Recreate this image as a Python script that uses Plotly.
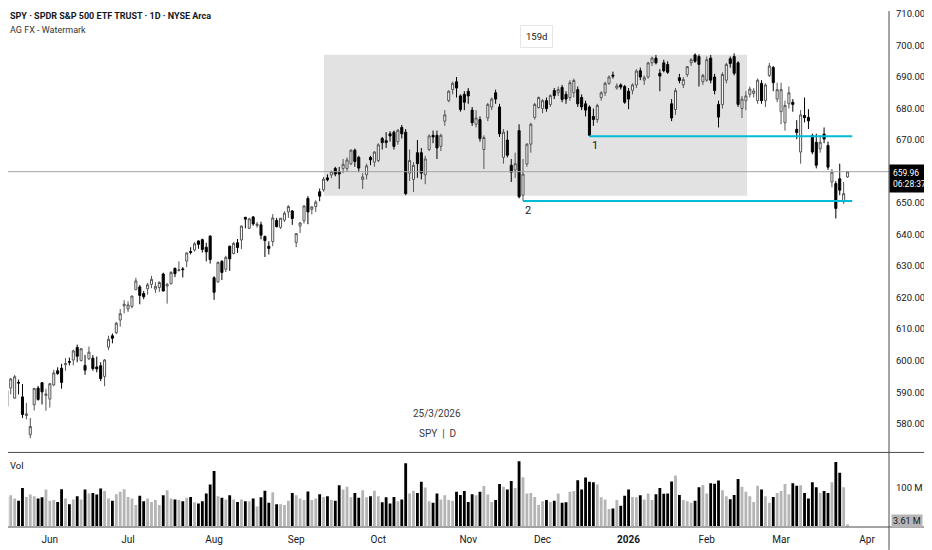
import plotly.graph_objects as go
import pandas as pd

# NYSE sessions between mid May 2025 and early April 2026
holidays = ["2025-05-26", "2025-06-19", "2025-07-04", "2025-09-01", "2025-11-27",
            "2025-12-25", "2026-01-01", "2026-01-19", "2026-02-16", "2026-04-03"]
sessions = pd.bdate_range("2025-05-13", "2026-04-10", freq="C", holidays=holidays)

# daily OHLC (SPY, 13 May 2025 .. 25 Mar 2026)
opens = [
    585.0, 588.0, 585.5, 591.3, 588.1, 593.1, 588.5, 582.6, 576.5, 586.0,
    591.3, 593.0, 589.0, 587.8, 592.3, 596.8, 597.6, 598.7, 599.7, 600.2,
    604.2, 600.0, 598.5, 600.6, 600.8, 598.0, 598.4, 595.0, 604.3, 607.9,
    608.9, 612.9, 617.4, 616.4, 617.2, 622.5, 623.4, 621.3, 622.8, 624.2,
    622.7, 623.2, 627.5, 623.7, 624.4, 629.3, 628.6, 629.1, 631.6, 634.6,
    635.1, 638.0, 638.4, 636.0, 639.5, 626.3, 625.0, 631.5, 629.0, 636.3,
    634.0, 637.4, 638.3, 645.5, 642.0, 645.6, 642.9, 643.1, 639.4, 636.3,
    637.8, 644.5, 642.3, 644.6, 647.2, 647.5, 637.5, 642.7, 644.4, 651.5,
    648.0, 648.9, 653.6, 654.2, 658.0, 658.9, 661.0, 660.0, 661.0, 661.0,
    662.5, 666.8, 664.5, 657.5, 659.0, 664.5, 663.0, 663.5, 670.5, 669.8,
    672.0, 672.5, 669.5, 674.0, 672.5, 659.5, 657.5, 666.0, 666.0, 659.0,
    667.0, 671.5, 671.5, 668.0, 676.0, 682.5, 686.0, 688.5, 684.0, 684.5,
    685.5, 679.5, 675.0, 676.5, 667.0, 677.0, 680.5, 685.0, 680.5, 664.5,
    670.0, 662.0, 660.5, 673.0, 652.5, 662.4, 668.7, 677.2, 680.3, 680.0,
    682.5, 681.3, 685.7, 685.0, 686.7, 684.5, 683.5, 685.0, 686.0, 683.5,
    681.5, 680.5, 677.5, 676.5, 683.5, 685.0, 688.0, 690.6, 686.5, 687.5,
    687.0, 685.5, 685.8, 687.5, 692.0, 689.0, 690.0, 694.5, 696.0, 691.2,
    694.5, 694.0, 681.5, 679.7, 689.8, 687.5, 690.8, 694.5, 697.0, 696.5,
    688.5, 689.0, 696.0, 690.0, 681.3, 681.3, 689.0, 695.8, 696.5, 694.5,
    680.0, 682.5, 684.5, 684.8, 682.5, 688.0, 682.5, 690.5, 693.0, 683.0,
    679.0, 675.5, 681.5, 682.0, 673.4, 666.2, 677.8, 677.2, 671.4, 669.3,
    667.2, 671.9, 668.3, 656.7, 656.2, 657.7, 650.4, 658.3,
]
highs = [
    589.1, 588.5, 590.9, 594.5, 595.5, 594.0, 592.6, 586.6, 581.8, 591.3,
    592.0, 593.2, 591.1, 592.8, 597.1, 597.9, 599.0, 600.8, 601.0, 603.5,
    605.1, 604.0, 601.8, 604.5, 601.8, 601.3, 599.5, 600.5, 607.9, 608.6,
    612.3, 616.4, 619.2, 618.8, 620.6, 626.3, 624.0, 622.1, 624.7, 626.9,
    624.9, 625.2, 627.9, 624.7, 628.4, 629.5, 631.5, 629.7, 634.3, 636.0,
    637.6, 638.1, 638.7, 637.4, 639.8, 626.8, 631.4, 631.9, 633.3, 636.5,
    637.7, 638.6, 642.9, 645.6, 645.3, 645.9, 644.0, 644.1, 639.7, 637.9,
    646.5, 645.3, 645.3, 647.4, 649.3, 647.8, 640.5, 644.0, 649.2, 652.2,
    649.0, 650.9, 654.6, 658.3, 659.1, 660.3, 661.5, 661.5, 664.0, 664.5,
    667.0, 667.3, 665.0, 659.5, 662.5, 665.0, 666.5, 669.0, 671.0, 672.5,
    672.8, 673.0, 673.5, 674.8, 673.5, 667.0, 663.0, 670.0, 667.5, 665.0,
    671.8, 673.0, 673.0, 672.0, 679.5, 685.8, 688.5, 690.0, 684.5, 685.5,
    686.5, 680.5, 679.5, 677.5, 671.5, 681.8, 683.5, 686.0, 681.5, 673.5,
    673.0, 664.0, 666.0, 675.0, 664.0, 669.0, 675.5, 681.8, 683.8, 683.0,
    683.5, 684.5, 686.5, 687.0, 687.5, 685.5, 689.0, 689.5, 687.0, 684.5,
    682.5, 681.0, 680.0, 681.5, 685.5, 688.5, 690.5, 691.7, 688.0, 688.0,
    687.5, 686.5, 688.0, 692.5, 693.0, 690.5, 694.8, 696.5, 697.0, 692.5,
    695.5, 695.0, 683.0, 686.5, 691.0, 690.0, 693.5, 696.0, 697.5, 697.2,
    691.0, 696.5, 697.0, 691.0, 682.5, 691.5, 694.5, 696.5, 697.5, 695.0,
    684.0, 685.5, 687.0, 686.5, 689.5, 689.0, 688.0, 694.5, 693.5, 688.2,
    688.2, 682.5, 687.0, 683.0, 676.3, 679.5, 683.5, 679.8, 672.0, 672.0,
    671.5, 674.0, 669.5, 660.8, 657.0, 662.5, 656.7, 660.2,
]
lows = [
    584.0, 585.5, 585.0, 589.3, 588.0, 589.3, 581.8, 581.4, 575.4, 584.2,
    587.3, 586.1, 584.1, 585.1, 591.9, 595.5, 591.1, 596.8, 598.5, 598.5,
    599.5, 599.8, 595.5, 600.2, 596.8, 596.3, 593.5, 591.9, 603.4, 605.5,
    608.4, 610.8, 615.0, 615.4, 616.6, 622.4, 617.9, 619.5, 620.9, 623.0,
    621.5, 621.8, 622.0, 618.1, 624.2, 626.5, 628.3, 626.4, 629.7, 633.7,
    634.6, 635.5, 634.3, 631.5, 630.8, 619.3, 624.7, 625.6, 628.1, 628.5,
    633.7, 634.2, 635.4, 642.0, 641.8, 642.8, 642.2, 638.5, 632.9, 633.7,
    636.3, 642.3, 641.8, 644.0, 645.3, 643.1, 636.0, 640.5, 643.5, 643.3,
    646.4, 647.2, 650.6, 653.6, 656.9, 657.9, 658.5, 654.5, 659.5, 660.0,
    662.0, 661.5, 659.8, 654.5, 657.5, 662.0, 661.5, 663.0, 667.0, 667.5,
    669.5, 667.0, 668.5, 670.5, 652.5, 657.0, 653.5, 658.0, 657.5, 656.0,
    666.5, 669.0, 664.0, 666.5, 674.5, 682.0, 684.5, 683.5, 679.0, 679.5,
    681.5, 674.5, 674.0, 669.5, 660.8, 676.0, 679.5, 681.5, 671.0, 662.5,
    664.5, 656.7, 658.0, 651.5, 650.7, 661.5, 666.0, 676.5, 680.0, 678.5,
    679.0, 680.5, 683.0, 684.0, 682.0, 681.5, 682.5, 683.5, 680.5, 679.5,
    677.5, 671.2, 674.5, 675.5, 682.5, 684.0, 687.5, 689.5, 686.0, 686.0,
    681.5, 679.8, 684.5, 686.5, 689.0, 687.5, 689.5, 693.5, 694.0, 685.5,
    691.5, 691.0, 676.0, 678.0, 688.0, 686.5, 690.0, 693.5, 694.5, 687.0,
    687.5, 688.5, 688.0, 684.5, 674.0, 680.0, 688.0, 693.0, 690.5, 680.5,
    677.0, 679.5, 683.5, 683.5, 681.5, 681.5, 680.5, 690.0, 685.5, 682.0,
    675.0, 673.0, 680.0, 679.0, 670.3, 662.5, 675.6, 673.5, 665.5, 661.0,
    666.0, 669.0, 660.5, 655.0, 645.1, 652.5, 649.8, 658.0,
]
closes = [
    586.8, 587.6, 590.5, 594.2, 594.9, 592.9, 582.9, 583.1, 579.1, 591.2,
    587.7, 590.1, 589.4, 592.7, 596.1, 595.9, 593.1, 599.1, 599.5, 603.1,
    601.4, 603.8, 597.0, 602.7, 597.5, 597.4, 594.3, 600.2, 606.8, 607.1,
    611.9, 614.9, 617.9, 617.7, 620.5, 625.3, 620.7, 620.3, 624.1, 625.8,
    623.6, 624.8, 622.1, 624.2, 628.0, 627.6, 628.8, 628.9, 634.2, 634.4,
    637.1, 636.9, 635.3, 634.5, 632.1, 621.7, 631.2, 628.0, 632.8, 632.3,
    637.2, 635.9, 642.7, 644.9, 645.0, 643.4, 643.3, 639.8, 638.1, 635.6,
    645.3, 642.5, 645.2, 646.8, 648.9, 645.1, 640.3, 643.7, 649.1, 647.2,
    648.8, 650.3, 652.2, 657.6, 657.4, 660.0, 659.2, 659.2, 662.3, 663.7,
    666.8, 663.2, 661.1, 658.3, 661.8, 663.7, 666.2, 668.5, 669.2, 669.2,
    671.3, 668.0, 673.1, 672.0, 653.0, 663.5, 662.0, 662.5, 659.5, 664.0,
    671.3, 671.0, 667.5, 671.5, 678.0, 685.5, 688.0, 686.5, 679.7, 682.0,
    684.0, 675.5, 677.0, 670.5, 670.8, 681.3, 683.0, 683.0, 672.0, 672.5,
    665.2, 659.8, 662.5, 652.0, 659.2, 668.7, 675.0, 681.3, 683.5, 682.5,
    680.0, 684.1, 684.1, 686.0, 682.9, 683.0, 688.2, 688.9, 681.5, 680.5,
    679.5, 671.5, 676.5, 681.0, 685.0, 688.0, 690.0, 690.3, 687.2, 686.8,
    682.0, 683.0, 687.5, 691.9, 690.0, 689.8, 694.5, 696.0, 694.5, 690.3,
    692.0, 691.5, 677.0, 685.7, 688.9, 689.2, 693.3, 695.5, 695.0, 694.0,
    690.5, 695.5, 689.0, 685.7, 677.3, 690.8, 694.0, 694.3, 691.2, 681.3,
    683.0, 684.0, 686.2, 685.6, 689.0, 682.5, 687.5, 693.5, 688.2, 686.0,
    686.0, 681.0, 685.0, 681.3, 672.4, 678.0, 677.1, 676.1, 666.2, 662.0,
    669.3, 670.3, 661.4, 659.8, 648.3, 654.1, 653.0, 659.96,
]
# daily volume, millions of shares
volume_m = [
    70, 71, 75, 79, 71, 65, 98, 75, 81, 77,
    71, 74, 94, 65, 67, 62, 95, 71, 56, 68,
    77, 68, 94, 84, 85, 81, 97, 90, 71, 65,
    82, 88, 95, 75, 71, 54, 78, 64, 71, 62,
    67, 54, 79, 92, 71, 68, 67, 64, 73, 75,
    61, 58, 64, 84, 107, 142, 77, 73, 68, 79,
    68, 62, 68, 64, 64, 71, 50, 74, 91, 60,
    87, 56, 56, 54, 65, 85, 79, 71, 67, 89,
    67, 71, 82, 75, 77, 67, 65, 105, 94, 101,
    74, 85, 73, 92, 74, 77, 91, 77, 61, 74,
    58, 75, 64, 68, 162, 84, 91, 85, 114, 99,
    64, 60, 84, 68, 79, 67, 65, 88, 80, 90,
    62, 82, 79, 88, 103, 81, 62, 67, 108, 101,
    94, 116, 98, 167, 126, 84, 85, 75, 54, 64,
    67, 62, 65, 84, 60, 61, 88, 90, 118, 94,
    125, 114, 113, 107, 74, 68, 44, 45, 67, 52,
    78, 94, 75, 74, 79, 68, 84, 67, 82, 98,
    83, 84, 115, 130, 80, 67, 64, 60, 65, 100,
    106, 84, 110, 109, 117, 92, 77, 69, 80, 121,
    101, 88, 77, 62, 104, 94, 77, 60, 75, 85,
    90, 108, 82, 110, 104, 105, 85, 71, 113, 100,
    85, 90, 85, 113, 165, 137, 100, 3.61,
]

month_starts = ["2025-06", "2025-07", "2025-08", "2025-09", "2025-10", "2025-11",
                "2025-12", "2026-01", "2026-02", "2026-03", "2026-04"]
month_labels = ["Jun", "Jul", "Aug", "Sep", "Oct", "Nov", "Dec", "<b>2026</b>",
                "Feb", "Mar", "Apr"]
price_ticks = [580, 590, 600, 610, 620, 630, 640, 650, 660, 670, 680, 690, 700, 710]

FONT = "Roboto, Liberation Sans, sans-serif"
TEXT = "#131722"
UP_VOL, DOWN_VOL = "#b5b5b5", "#000000"
CYAN = "#00bcd4"

n = len(closes)
xs = list(range(n))
month_pos = [int(sessions.get_indexer([sessions[sessions.strftime("%Y-%m") == m][0]])[0])
             for m in month_starts]
vol_colors = [UP_VOL if c >= o else DOWN_VOL for o, c in zip(opens, closes)]
# the last-price badge covers the tick next to it
shown_ticks = [t for t in price_ticks if abs(t - closes[-1]) > 3]

# the page sits 8px in from the window corner, so the figure is 924 x 542;
# plot area 881 x 519, volume pane is the bottom 75 px
W, H = 924, 542
PW, PH = 881, 519
VOL_FRAC = 75 / PH


def px(page_x):
    return (page_x - 8) / PW


def py(page_y):
    return (527 - page_y) / PH


fig = go.Figure()
fig.add_trace(go.Candlestick(
    x=xs, open=opens, high=highs, low=lows, close=closes,
    increasing=dict(line=dict(color="#555555", width=1), fillcolor="#ffffff"),
    decreasing=dict(line=dict(color="#000000", width=1), fillcolor="#000000"),
    hoverinfo="skip", showlegend=False,
))
fig.add_trace(go.Bar(
    x=xs, y=[v * 1e6 for v in volume_m], marker=dict(color=vol_colors, line_width=0),
    width=0.72, xaxis="x2", yaxis="y2", hoverinfo="skip", showlegend=False,
))

key_low_1 = lows[151]   # 17 Dec low
key_low_2 = lows[134]   # 21 Nov low
ray_end = n + 0.2

shapes = [
    dict(type="rect", xref="x", yref="y", x0=83.1, x1=191.3, y0=652.3, y1=697.1,
         fillcolor="#e2e2e2", line_width=0, layer="below"),
    dict(type="line", xref="paper", yref="y", x0=0, x1=1, y0=closes[-1], y1=closes[-1],
         line=dict(color="#a3a3a3", width=1)),
    dict(type="line", xref="x", yref="y", x0=151, x1=ray_end, y0=key_low_1, y1=key_low_1,
         line=dict(color=CYAN, width=2)),
    dict(type="line", xref="x", yref="y", x0=134, x1=ray_end, y0=key_low_2, y1=key_low_2,
         line=dict(color=CYAN, width=2)),
    # pane borders
    dict(type="line", xref="paper", yref="paper", x0=0, x1=W / PW, y0=VOL_FRAC, y1=VOL_FRAC,
         line=dict(color="#4a4a4a", width=1)),
    dict(type="line", xref="paper", yref="paper", x0=0, x1=W / PW, y0=0, y1=0,
         line=dict(color="#4a4a4a", width=1)),
    dict(type="line", xref="paper", yref="paper", x0=1, x1=1, y0=-(H - PH) / PH, y1=1,
         line=dict(color="#4a4a4a", width=1)),
]

annotations = [
    dict(xref="paper", yref="paper", x=0, y=py(13), xanchor="left", yanchor="middle",
         text="<b>SPY · SPDR S&P 500 ETF TRUST · 1D · NYSE Arca</b>", showarrow=False,
         font=dict(size=9, color=TEXT)),
    dict(xref="paper", yref="paper", x=0, y=py(27), xanchor="left", yanchor="middle",
         text="AG FX - Watermark", showarrow=False, font=dict(size=9, color="#333333")),
    dict(xref="paper", yref="paper", x=0, y=py(465), xanchor="left",
         yanchor="middle", text="Vol", showarrow=False, font=dict(size=9.5, color=TEXT)),
    dict(xref="paper", yref="paper", x=px(437), y=py(413), xanchor="center",
         yanchor="middle", text="25/3/2026", showarrow=False,
         font=dict(size=10, color="#3a3a3a")),
    dict(xref="paper", yref="paper", x=px(437), y=py(433), xanchor="center",
         yanchor="middle", text="SPY  |  D", showarrow=False,
         font=dict(size=10, color="#3a3a3a")),
    dict(xref="paper", yref="paper", x=px(536), y=py(34), xanchor="center",
         yanchor="middle", text="159d", showarrow=False,
         font=dict(size=9.5, color=TEXT), bgcolor="#ffffff",
         bordercolor="#e6e6e6", borderwidth=1, borderpad=5),
    dict(xref="x", yref="y", x=152.3, y=key_low_1 - 2.9, text="1", showarrow=False,
         font=dict(size=11, color=TEXT)),
    dict(xref="x", yref="y", x=135.3, y=key_low_2 - 2.9, text="2", showarrow=False,
         font=dict(size=11, color=TEXT)),
    dict(xref="paper", yref="y", x=1, y=closes[-1], xanchor="left", yanchor="top", yshift=8,
         text=f"{closes[-1]:.2f}<br>06:28:37", showarrow=False, align="left",
         font=dict(size=8.5, color="#ffffff"), bgcolor="#000000", borderpad=3),
    dict(xref="paper", yref="paper", x=1.002, y=py(521), xanchor="left", yanchor="middle",
         text=f"{volume_m[-1]:.2f} M", showarrow=False, font=dict(size=9, color=TEXT),
         bgcolor="#b5b5b5", borderpad=1),
]

fig.update_layout(
    width=W, height=H,
    margin=dict(l=0, r=W - PW, t=0, b=H - PH),
    paper_bgcolor="#ffffff", plot_bgcolor="#ffffff",
    font=dict(family=FONT, size=10, color=TEXT),
    showlegend=False, boxgap=0.25,
    xaxis=dict(range=[2.3, 227.6], anchor="y", showgrid=False, zeroline=False,
               showticklabels=False, rangeslider=dict(visible=False), fixedrange=True),
    xaxis2=dict(matches="x", anchor="y2", showgrid=False, zeroline=False,
                tickvals=month_pos, ticktext=month_labels, ticks="",
                ticklabelstandoff=5, tickfont=dict(size=10, color=TEXT)),
    yaxis=dict(domain=[VOL_FRAC, 1], side="right", range=[570.88, 710.95],
               tickvals=shown_ticks, tickformat=".2f", showgrid=False, zeroline=False,
               ticks="", ticklabelstandoff=6, ticklabeloverflow="allow",
               tickfont=dict(size=9.5, color=TEXT)),
    yaxis2=dict(domain=[0, VOL_FRAC], side="right", range=[-2.6e6, 189.7e6],
                tickvals=[100e6], ticktext=["100 M"], showgrid=False, zeroline=False,
                ticks="", ticklabelstandoff=6, tickfont=dict(size=9.5, color=TEXT)),
    shapes=shapes, annotations=annotations,
)

fig.write_html("out.html")
